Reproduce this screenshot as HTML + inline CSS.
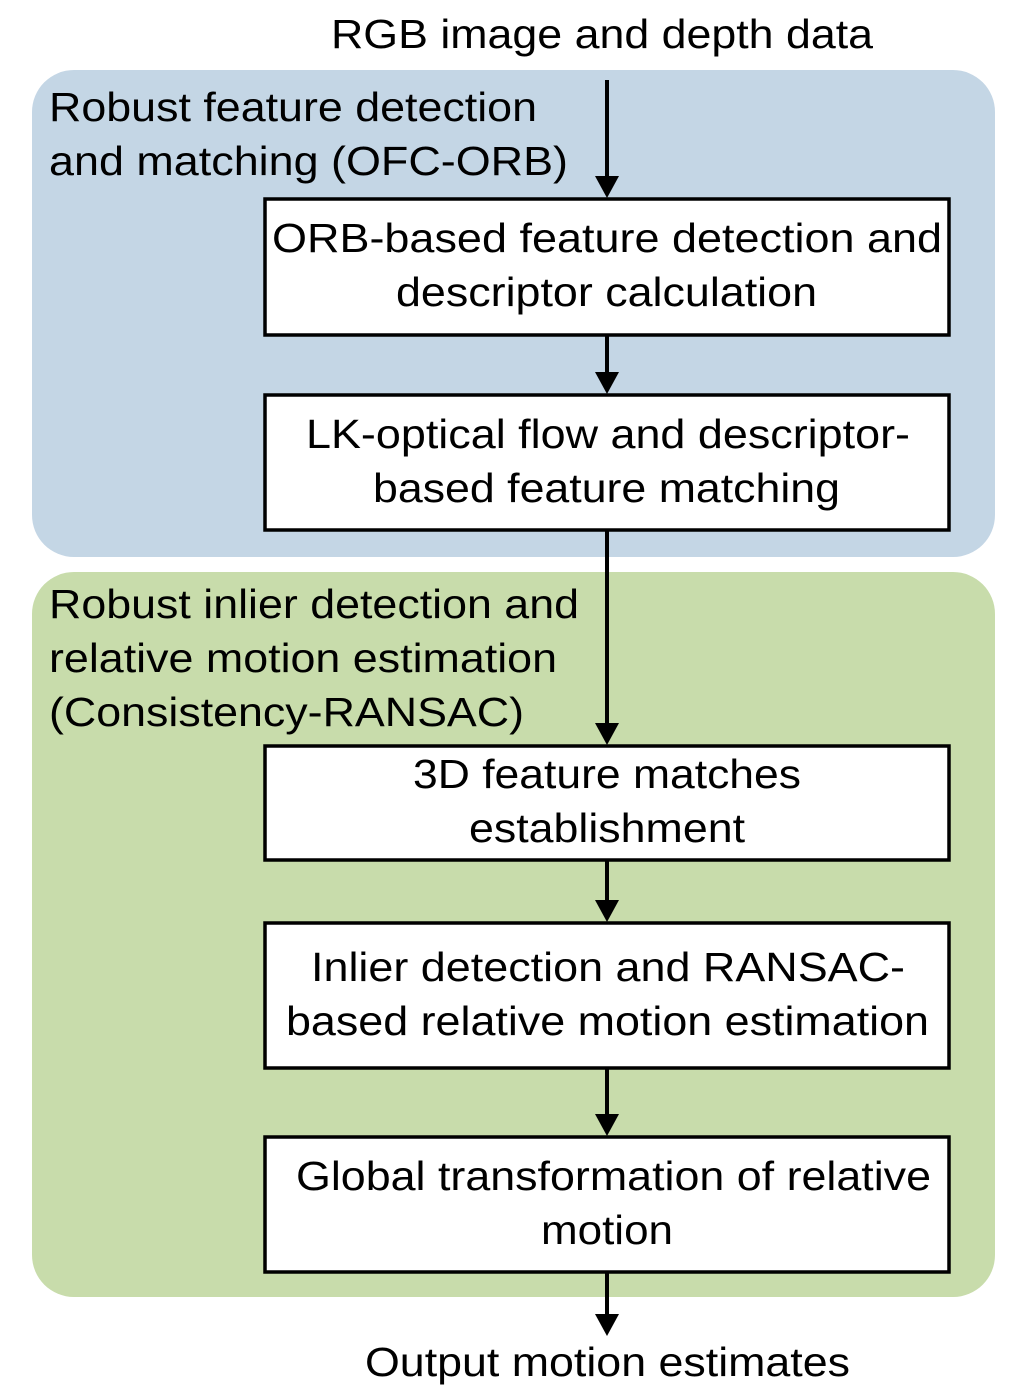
<!DOCTYPE html>
<html><head><style>html,body{margin:0;padding:0;background:#fff}svg{display:block}</style></head>
<body>
<svg width="1024" height="1400" viewBox="0 0 1024 1400" xmlns="http://www.w3.org/2000/svg" font-family="Liberation Sans, Arial, sans-serif" font-size="41" fill="#000">
<rect x="32" y="70" width="963" height="487" rx="42" fill="#c4d6e5"/>
<rect x="32" y="572" width="963" height="725" rx="42" fill="#c8dcab"/>
<g fill="#fff" stroke="#000" stroke-width="3.5">
<rect x="265" y="199" width="684" height="136"/>
<rect x="265" y="395" width="684" height="135"/>
<rect x="265" y="746" width="684" height="114"/>
<rect x="265" y="923" width="684" height="145"/>
<rect x="265" y="1137" width="684" height="135"/>
</g>
<g stroke="#000" stroke-width="4">
<line x1="607" y1="80" x2="607" y2="180"/>
<line x1="607" y1="336" x2="607" y2="376"/>
<line x1="607" y1="531" x2="607" y2="726"/>
<line x1="607" y1="861" x2="607" y2="904"/>
<line x1="607" y1="1069" x2="607" y2="1118"/>
<line x1="607" y1="1273" x2="607" y2="1318"/>
</g>
<g fill="#000">
<polygon points="595,176 619,176 607,198"/>
<polygon points="595,372 619,372 607,394"/>
<polygon points="595,723 619,723 607,745"/>
<polygon points="595,900 619,900 607,922"/>
<polygon points="595,1114 619,1114 607,1136"/>
<polygon points="595,1314 619,1314 607,1336"/>
</g>
<g lengthAdjust="spacingAndGlyphs">
<text x="331" y="48" textLength="542" lengthAdjust="spacingAndGlyphs">RGB image and depth data</text>
<text x="272" y="252" textLength="670" lengthAdjust="spacingAndGlyphs">ORB-based feature detection and</text>
<text x="396" y="306" textLength="421" lengthAdjust="spacingAndGlyphs">descriptor calculation</text>
<text x="306" y="448" textLength="604" lengthAdjust="spacingAndGlyphs">LK-optical flow and descriptor-</text>
<text x="373" y="502" textLength="467" lengthAdjust="spacingAndGlyphs">based feature matching</text>
<text x="413" y="788" textLength="388" lengthAdjust="spacingAndGlyphs">3D feature matches</text>
<text x="469" y="842" textLength="276" lengthAdjust="spacingAndGlyphs">establishment</text>
<text x="311" y="981" textLength="594" lengthAdjust="spacingAndGlyphs">Inlier detection and RANSAC-</text>
<text x="286" y="1035" textLength="643" lengthAdjust="spacingAndGlyphs">based relative motion estimation</text>
<text x="296" y="1190" textLength="635" lengthAdjust="spacingAndGlyphs">Global transformation of relative</text>
<text x="541" y="1244" textLength="132" lengthAdjust="spacingAndGlyphs">motion</text>
<text x="365" y="1376" textLength="485" lengthAdjust="spacingAndGlyphs">Output motion estimates</text>
<text x="49" y="121" textLength="488" lengthAdjust="spacingAndGlyphs">Robust feature detection</text>
<text x="49" y="175" textLength="519" lengthAdjust="spacingAndGlyphs">and matching (OFC-ORB)</text>
<text x="49" y="618" textLength="530" lengthAdjust="spacingAndGlyphs">Robust inlier detection and</text>
<text x="49" y="672" textLength="508" lengthAdjust="spacingAndGlyphs">relative motion estimation</text>
<text x="49" y="726" textLength="475" lengthAdjust="spacingAndGlyphs">(Consistency-RANSAC)</text>
</g>
</svg>
</body></html>
